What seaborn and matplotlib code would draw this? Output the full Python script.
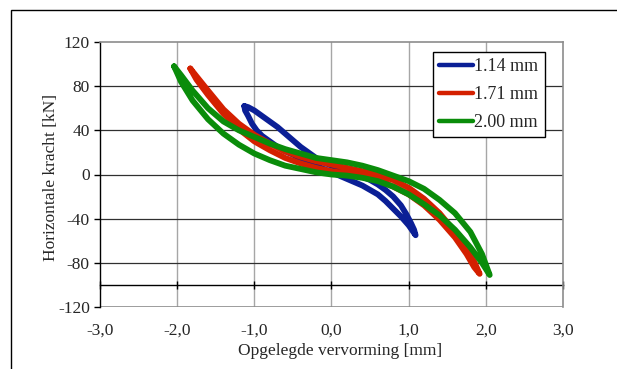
import matplotlib
matplotlib.use('Agg')
import matplotlib.pyplot as plt
import seaborn as sns
import pandas as pd
from matplotlib.patches import Rectangle

# hysteresis loops: left tip -> upper branch -> right tip -> lower branch -> left tip
blue_x = [-1.13, -1.08, -1.0, -0.9, -0.8, -0.7, -0.6, -0.5, -0.4, -0.3, -0.2, -0.1, 0.0, 0.1, 0.2, 0.3, 0.4, 0.5,
          0.6, 0.7, 0.8, 0.9, 0.97, 1.03, 1.07, 1.09,
          1.06, 1.0, 0.9, 0.8, 0.7, 0.6, 0.5, 0.4, 0.3, 0.2, 0.1, 0.0, -0.1, -0.2, -0.3, -0.4, -0.5, -0.6, -0.7,
          -0.8, -0.9, -0.97, -1.03, -1.08, -1.12, -1.13]
blue_y = [62, 61, 58, 53, 48, 43, 37, 31, 25, 20, 15, 11, 8, 6, 4, 1, -2, -5,
          -9, -14, -20, -28, -36, -44, -50, -55,
          -52, -46, -38, -31, -24, -18, -14, -10, -7, -4, -1, 2, 5, 8, 11, 14, 18, 21, 25,
          30, 35, 40, 46, 53, 58, 62]

red_x = [-1.83, -1.75, -1.6, -1.4, -1.2, -1.0, -0.8, -0.6, -0.4, -0.2, 0.0, 0.2, 0.4, 0.6, 0.8, 1.0,
         1.2, 1.4, 1.6, 1.75, 1.85, 1.92,
         1.85, 1.75, 1.6, 1.4, 1.2, 1.0, 0.8, 0.6, 0.4, 0.2, 0.0, -0.2, -0.4, -0.6, -0.8, -1.0, -1.2, -1.4,
         -1.6, -1.75, -1.83]
red_y = [96, 89, 76, 59, 46, 36, 28, 21, 16, 12, 9, 6, 3, 0, -5, -12,
         -22, -35, -52, -67, -79, -90,
         -84, -72, -57, -41, -28, -18, -11, -5, -1, 1, 3, 6, 10, 15, 22, 30, 41, 55,
         72, 86, 96]

green_x = [-2.04, -1.95, -1.8, -1.6, -1.4, -1.2, -1.0, -0.8, -0.6, -0.4, -0.2, 0.0, 0.2, 0.4, 0.6, 0.8, 1.0,
           1.2, 1.4, 1.6, 1.8, 1.95, 2.05,
           1.95, 1.8, 1.6, 1.4, 1.2, 1.0, 0.8, 0.6, 0.4, 0.2, 0.0, -0.2, -0.4, -0.6, -0.8, -1.0, -1.2, -1.4,
           -1.6, -1.8, -1.95, -2.04]
green_y = [98, 90, 76, 60, 48, 40, 34, 28, 23, 19, 15, 13, 11, 8, 4, -1, -6,
           -13, -23, -35, -52, -72, -91,
           -80, -66, -50, -37, -27, -18, -11, -6, -3, -1, 0, 2, 5, 8, 13, 19, 27, 37,
           50, 67, 84, 98]

labels = ['1.14 mm', '1.71 mm', '2.00 mm']
colors = ['#0B1F96', '#D42000', '#0A8C0A']
x_ticks = [-3, -2, -1, 0, 1, 2, 3]
x_tick_labels = ['-3,0', '-2,0', '-1,0', '0,0', '1,0', '2,0', '3,0']
y_ticks = [-120, -80, -40, 0, 40, 80, 120]

frames = []
for lab, xs, ys in zip(labels, [blue_x, red_x, green_x], [blue_y, red_y, green_y]):
    frames.append(pd.DataFrame({'x': xs, 'y': ys, 'serie': lab}))
df = pd.concat(frames, ignore_index=True)

sns.set_theme(style='white')
plt.rcParams['font.family'] = ['Liberation Serif', 'DejaVu Serif']
plt.rcParams['axes.unicode_minus'] = False

fig = plt.figure(figsize=(6.17, 3.69), dpi=100)
ax = fig.add_axes([100 / 617, 1 - 307 / 369, 463 / 617, 265 / 369])

for lab, col in zip(labels, colors):
    sub = df[df['serie'] == lab]
    sns.lineplot(data=sub, x='x', y='y', sort=False, estimator=None, color=col, lw=4.2,
                 solid_joinstyle='round', solid_capstyle='round', ax=ax, label=lab)

ax.set_xlim(-3, 3)
ax.set_ylim(-120, 120)
ax.set_xticks(x_ticks)
ax.set_xticklabels(x_tick_labels)
ax.set_yticks(y_ticks)

# gridlines
for xv in x_ticks[1:-1]:
    ax.axvline(xv, color='#a6a6a6', lw=1.0, zorder=0)
for yv in y_ticks[1:-1]:
    ax.axhline(yv, color='#303030', lw=0.9, zorder=0)
ax.axhline(-120, color='#8c8c8c', lw=1.2, zorder=0.5)

for s in ['top', 'right']:
    ax.spines[s].set_color('#8c8c8c')
    ax.spines[s].set_linewidth(1.2)
ax.spines['left'].set_color('black')
ax.spines['left'].set_linewidth(1.0)
ax.spines['bottom'].set_position(('data', -100))
ax.spines['bottom'].set_color('black')
ax.spines['bottom'].set_linewidth(1.0)
ax.spines['bottom'].set_zorder(0.6)

ax.tick_params(axis='x', direction='inout', length=6, width=1, color='black', pad=24, labelsize=12.5,
               bottom=True)
ax.tick_params(axis='y', direction='out', length=4.3, width=1, color='black', pad=3, labelsize=12.5, left=True)

ax.set_xlabel('Opgelegde vervorming [mm]', fontsize=12.5)
ax.set_ylabel('Horizontale kracht [kN]', fontsize=12.5)
ax.xaxis.set_label_coords(0.518, -0.135)
ax.yaxis.set_label_coords(-0.088, 0.49)

leg = ax.legend(loc='upper right', bbox_to_anchor=(0.961, 0.962), borderaxespad=0, fontsize=13,
                frameon=True, fancybox=False, edgecolor='black', framealpha=1, handlelength=1.85,
                handletextpad=0.1, labelspacing=0.6, borderpad=0.35)
leg.get_frame().set_linewidth(1.0)
for ln in leg.get_lines():
    ln.set_linewidth(3.2)

fig.patches.append(Rectangle((11 / 617, -0.1), 1.2, 1.1 - 10 / 369, transform=fig.transFigure,
                             fill=False, edgecolor='black', lw=1.0))

fig.savefig('out.png', dpi=100)
